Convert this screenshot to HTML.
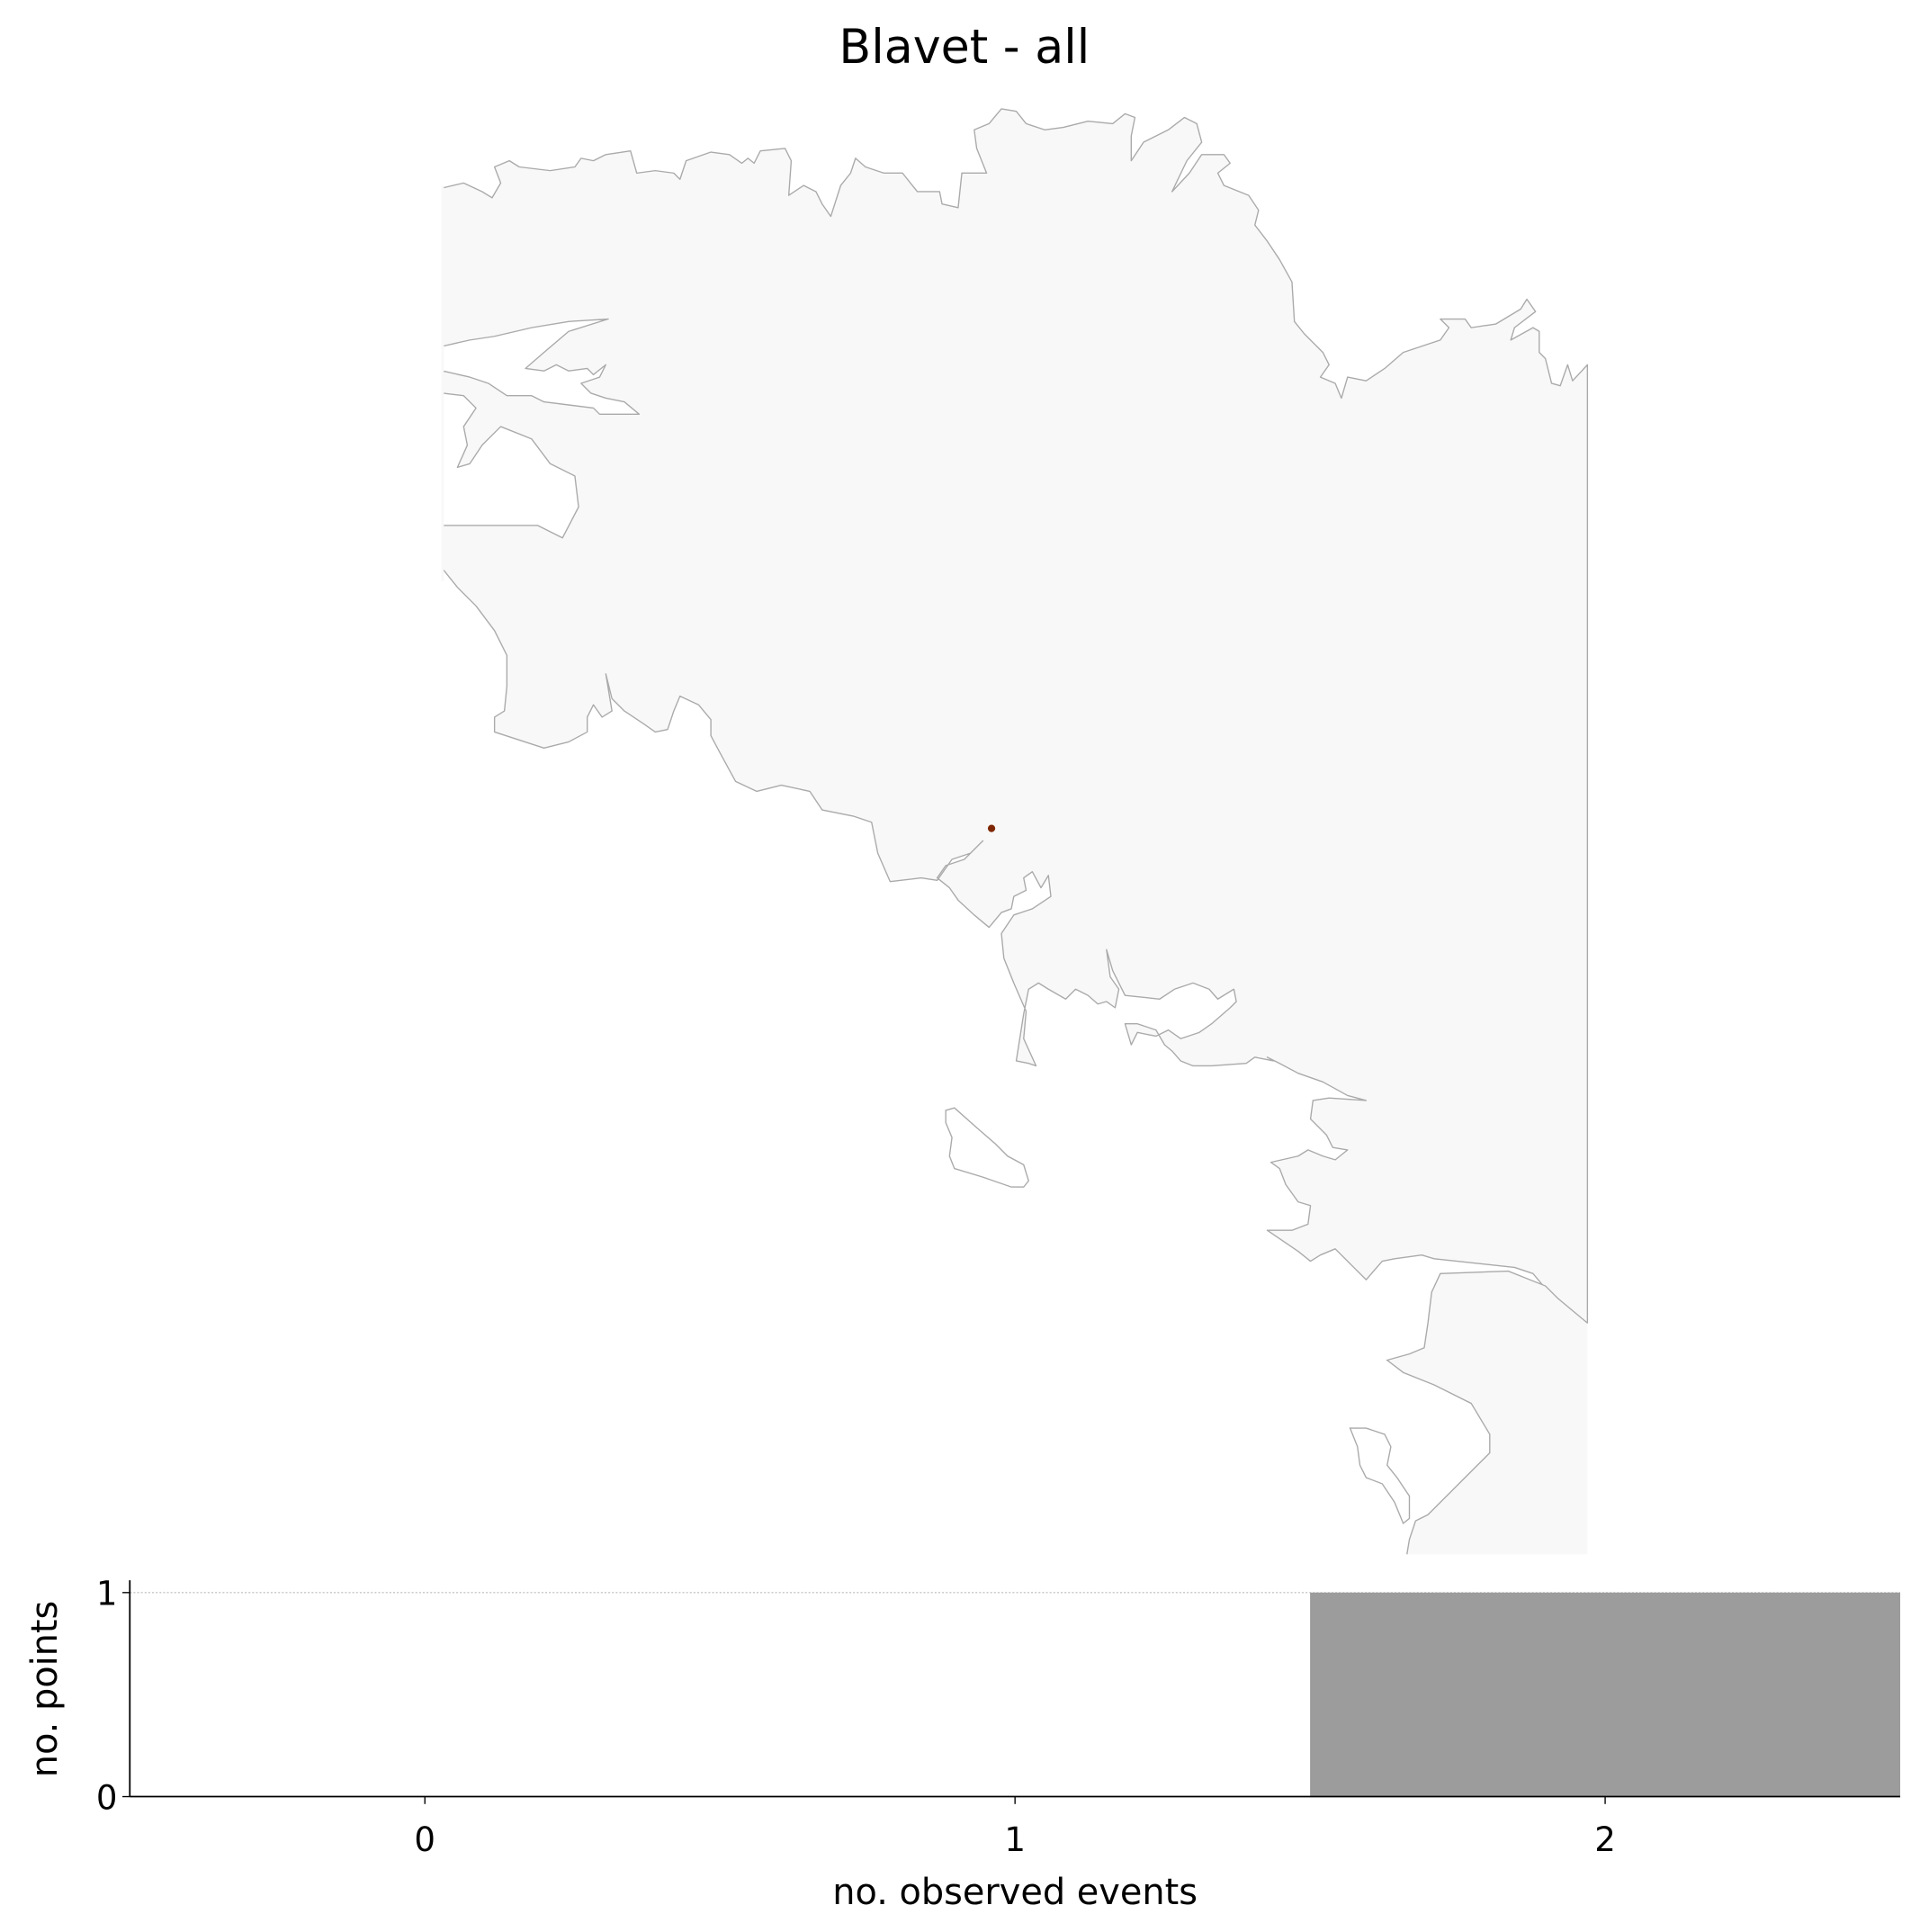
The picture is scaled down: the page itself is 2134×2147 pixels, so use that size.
<!DOCTYPE html>
<html><head><meta charset="utf-8"><style>
html,body{margin:0;padding:0;background:#fff}
svg{display:block;font-family:"DejaVu Sans","Liberation Sans",sans-serif}
</style></head><body>
<svg id="fig" width="2134" height="2147" viewBox="0 0 1553 1562.5" preserveAspectRatio="none" xmlns="http://www.w3.org/2000/svg">
<rect x="0" y="0" width="1553" height="1562.5" fill="#fff"/>
<text x="780" y="51" font-size="38" text-anchor="middle" fill="#000">Blavet - all</text>
<g id="map">
<polygon fill="#f8f8f8" stroke="#aaa" stroke-width="1" stroke-linejoin="round" points="
358,152 375,148 390,155 398,160 405,148 400,135 412,130 420,135 445,138 465,135 470,128 480,130 490,125 510,122 515,140 530,138 545,140 550,145 555,130 575,123 590,125 600,132 605,128 610,132 615,122 635,120 640,130 638,158 650,150 660,155 665,165 672,175 680,150 688,140 692,128 700,135 715,140 730,140 742,155 760,155 762,165 775,168 778,140 798,140 790,120 788,105 800,100 810,88 822,90 830,100 845,105 860,103 880,98 900,100 910,92 918,95 915,110 915,130 925,115 945,105 958,95 968,100 972,115 960,130 948,155 962,140 972,125 990,125 995,132 985,140 990,150 1010,158 1018,170 1015,182 1025,195 1035,210 1045,228 1047,260 1055,270 1070,285 1075,295 1068,305 1080,310 1085,322 1090,305 1105,308 1120,298 1135,285 1165,275 1172,265 1165,258 1185,258 1190,265 1210,262 1230,250 1235,242 1242,252 1238,255 1225,265 1222,275 1240,265 1245,268 1245,285 1250,290 1255,310 1262,312 1268,295 1272,308 1284,295
1284,1070 1270,1060 1255,1048 1240,1030 1225,1025 1160,1018 1150,1015 1128,1018 1118,1020 1105,1035 1095,1025 1080,1010 1068,1015 1060,1020 1050,1012 1025,995 1045,995 1058,990 1060,975 1050,972 1040,958 1035,945 1028,940 1050,935 1058,930 1070,935 1080,938 1090,930 1078,928 1073,918 1060,905 1062,890 1075,888 1105,890 1090,886 1070,875 1050,868 1035,860 1025,855 1030,858 1015,855 1008,860 980,862 965,862 955,858 948,850 942,845 935,833 920,828 910,828 915,845 920,835 935,838 945,833 955,840 970,835 980,828 995,815 1000,810 998,800 985,808 978,800 965,795 950,800 938,808 910,805 905,795 900,785 895,768 898,790 905,800 902,815 895,810 888,812 880,805 870,800 862,808 848,800 840,795 832,800 828,820 822,858 832,860 838,862 828,840 830,818 820,795 812,775 810,755 820,740 835,735 850,725 848,708 842,718 835,705 828,710 830,720 820,725 818,735 810,738 800,750 788,740 775,728 768,718 758,710 765,700 780,695 795,680 785,690 770,695 758,712 745,710 720,713 710,690 705,665 690,660 665,655 655,640 632,635 612,640 595,632 583,610 575,595 575,582 565,570 550,563 545,575 540,590 530,592 520,585 505,575 495,565 490,545 495,575 487,580 480,570 475,580 475,592 460,600 440,605 400,592 400,580 408,575 410,555 410,530 400,510 385,490 370,475 358,460
358,425 435,425 455,435 468,410 465,385 445,375 430,355 405,345 390,360 380,375 370,378 378,360 375,345 385,330 375,320 358,318
358,300 380,305 395,310 410,320 430,320 440,325 480,330 485,335 517,335 505,325 490,322 478,318 470,310 485,305 490,295 480,303 475,298 460,300 450,295 440,300 425,298 440,285 460,268 492,258 460,260 430,265 400,272 380,275 358,280"/>
<rect x="357" y="150" width="2" height="320" fill="#f8f8f8"/>
<polygon fill="#f8f8f8" stroke="none" points="1284,1070 1260,1050 1250,1040 1220,1028 1165,1030 1158,1045 1155,1070 1152,1090 1140,1095 1122,1100 1135,1110 1160,1120 1190,1135 1205,1160 1205,1175 1195,1185 1180,1200 1165,1215 1155,1225 1145,1230 1140,1245 1138,1257 1284,1257"/>
<polyline fill="none" stroke="#aaa" stroke-width="1" points="1284,1070 1260,1050 1250,1040 1220,1028 1165,1030 1158,1045 1155,1070 1152,1090 1140,1095 1122,1100 1135,1110 1160,1120 1190,1135 1205,1160 1205,1175 1195,1185 1180,1200 1165,1215 1155,1225 1145,1230 1140,1245 1138,1257"/>
<polygon fill="#fff" stroke="#aaa" stroke-width="1" points="765,898 772,896 790,912 805,925 815,935 828,942 832,955 828,960 818,960 795,952 772,945 768,935 770,920 765,908"/>
<polygon fill="#fff" stroke="#aaa" stroke-width="1" points="1092,1155 1105,1155 1120,1160 1125,1170 1122,1185 1130,1195 1140,1210 1140,1228 1135,1232 1128,1215 1118,1200 1105,1195 1100,1185 1098,1170"/>
<circle cx="802" cy="670" r="3" fill="#7f2704"/>
</g>
<g id="hist"></g>
</svg>
<script>
const categories = [0, 1, 2];
const counts = [0, 0, 1];
const xTicks = ["0", "1", "2"];
const yTicks = [0, 1];
const NS = "http://www.w3.org/2000/svg";
const g = document.getElementById('hist');
const L = 105, R = 1537, T = 1288, B = 1453;
const xMin = -0.5, xMax = 2.5, yMin = 0, yMax = 1;
function xs(v){ return L + (v - xMin) / (xMax - xMin) * (R - L); }
function ys(v){ return B - (v - yMin) / (yMax - yMin) * (B - T); }
function mk(tag, attrs){ const e = document.createElementNS(NS, tag); for (const k in attrs) e.setAttribute(k, attrs[k]); g.appendChild(e); return e; }
let e;
e = mk('line', {x1: L, x2: R, y1: ys(1), y2: ys(1), stroke: '#bbb', 'stroke-width': 0.8, 'stroke-dasharray': '1.5,1.5'});


categories.forEach((c, i) => {
  const y0 = ys(0), y1 = ys(counts[i]);
  const r = mk('rect', {x: xs(c - 0.5), y: y1, width: xs(c + 0.5) - xs(c - 0.5), height: y0 - y1, fill: '#9c9c9c'});
  
  
});
e = mk('line', {x1: L, x2: L, y1: 1278, y2: B, stroke: '#000', 'stroke-width': 1.3});


e = mk('line', {x1: L, x2: R, y1: B, y2: B, stroke: '#000', 'stroke-width': 1.3});


categories.forEach((c, i) => {
  const x = xs(c);
  const t = mk('line', {x1: x, x2: x, y1: B, y2: B + 6, stroke: '#000', 'stroke-width': 1});
  
  
  const tx = mk('text', {x: x, y: B + 44, 'font-size': 27, 'text-anchor': 'middle', fill: '#000'});
  tx.textContent = xTicks[i];
  
  
});
yTicks.forEach(v => {
  const y = ys(v);
  const t = mk('line', {x1: L - 6, x2: L, y1: y, y2: y, stroke: '#000', 'stroke-width': 1});
  
  
  const tx = mk('text', {x: L - 10, y: y + 10, 'font-size': 27, 'text-anchor': 'end', fill: '#000'});
  tx.textContent = String(v);
  
  
});
e = mk('text', {x: 821, y: 1540, 'font-size': 29, 'text-anchor': 'middle', fill: '#000'});
e.textContent = 'no. observed events';


e = mk('text', {x: 0, y: 0, 'font-size': 29, 'text-anchor': 'middle', fill: '#000', transform: 'translate(46,1366) rotate(-90)'});
e.textContent = 'no. points';


</script>
</body></html>
